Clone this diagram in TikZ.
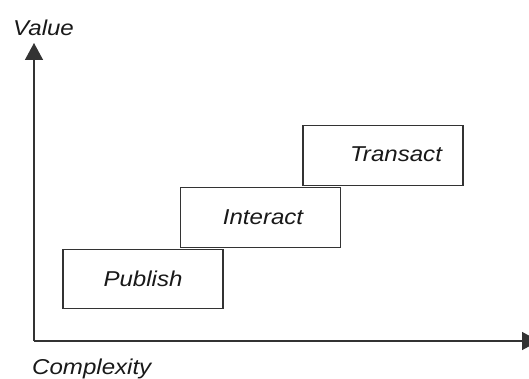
\documentclass[tikz,border=0pt]{standalone}
\usepackage{fontspec}
\setmainfont{Liberation Sans}
\newfontfamily\labfont[FakeStretch=1.12, ItalicFeatures={FakeStretch=1.12}]{Liberation Sans}
\usetikzlibrary{arrows.meta}
\tikzset{
  axis/.style={draw=black!80, line width=1.4pt, -{Triangle[width=18pt,length=17pt]}},
  stage/.style={draw=black!80, line width=1.1pt, fill=white, minimum width=160pt, minimum height=59.5pt, inner sep=0pt},
  lab/.style={font=\labfont\itshape\fontsize{21.5}{25}\selectfont, text=black!90, inner sep=0pt}
}
\begin{document}
\begin{tikzpicture}[x=1pt,y=-1pt]
\useasboundingbox (0,0) rectangle (529,379);
\coordinate (origin) at (34,341);
\coordinate (ytip) at (34,43);
\coordinate (xtip) at (539,341);
\draw[axis] (origin) -- (ytip);
\draw[axis] (origin) -- (xtip);
\node[stage] (publish) at (143,279) {};
\node[stage] (interact) at (260.5,217.5) {};
\node[stage] (transact) at (383,155.5) {};
\node[lab, anchor=base] (publishlab) at (143,286) {Publish};
\node[lab, anchor=base] (interactlab) at (263,224) {Interact};
\node[lab, anchor=base] (transactlab) at (396,162) {Transact};
\node[lab, anchor=base west] (value) at (13,36) {Value};
\node[lab, anchor=base west] (complexity) at (32,374) {Complexity};
\end{tikzpicture}
\end{document}
